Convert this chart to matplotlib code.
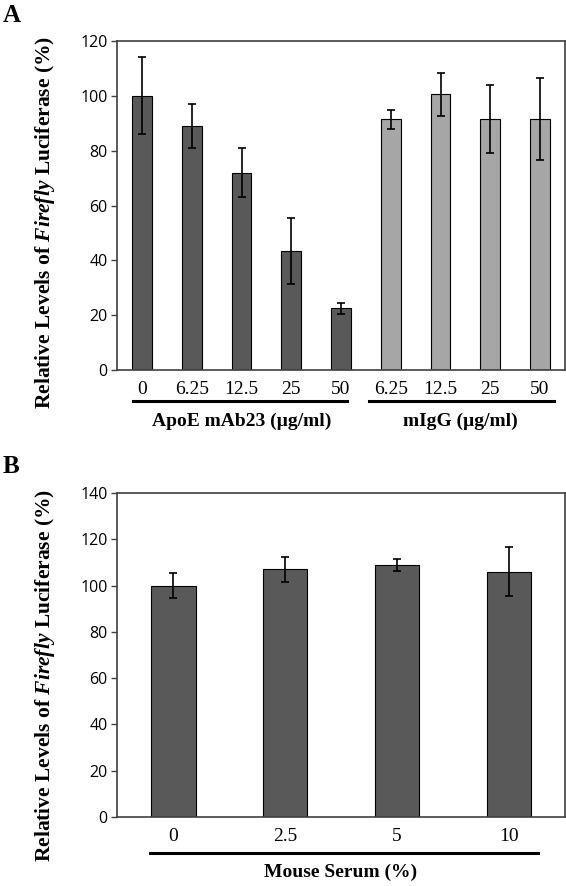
import matplotlib
matplotlib.use('Agg')
import matplotlib.pyplot as plt

plt.rcParams['mathtext.fontset'] = 'custom'
plt.rcParams['mathtext.rm'] = 'Liberation Serif:bold'
plt.rcParams['mathtext.it'] = 'Liberation Serif:italic:bold'

# Panel A data
a_labels = ['0', '6.25', '12.5', '25', '50', '6.25', '12.5', '25', '50']
a_values = [100, 89, 72, 43.5, 22.5, 91.5, 100.5, 91.5, 91.5]
a_errors = [14, 8, 9, 12, 2, 3.5, 8, 12.5, 15]
a_groups = ['ApoE mAb23', 'ApoE mAb23', 'ApoE mAb23', 'ApoE mAb23', 'ApoE mAb23',
            'mIgG', 'mIgG', 'mIgG', 'mIgG']

# Panel B data
b_labels = ['0', '2.5', '5', '10']
b_values = [100, 107, 109, 106]
b_errors = [5.5, 5.5, 2.5, 10.5]

dark = '#595959'
light = '#a6a6a6'
ylabel = r'Relative Levels of $\mathit{Firefly}$ Luciferase (%)'

fig = plt.figure(figsize=(5.66, 8.86), dpi=100)
axA = fig.add_axes([0.207, 0.5824, 0.791, 0.3713])
axB = fig.add_axes([0.207, 0.0779, 0.791, 0.3657])


def style_axes(ax, ymax, step, label_y):
    ax.set_ylim(0, ymax)
    ax.set_yticks(range(0, ymax + 1, step))
    for s in ax.spines.values():
        s.set_color('#404040')
        s.set_linewidth(1.2)
    ax.tick_params(axis='y', direction='out', length=4, width=1, color='#404040',
                   labelsize=11.5, pad=3)
    for t in ax.get_yticklabels():
        t.set_fontfamily('Open Sans')
    ax.tick_params(axis='x', length=0, labelsize=14, pad=8)
    for t in ax.get_xticklabels():
        t.set_fontfamily('Liberation Serif')
    ax.set_ylabel(ylabel, fontsize=15.5, fontweight='bold', family='Liberation Serif')
    ax.yaxis.set_label_coords(-0.135, label_y)


# Panel A
xa = list(range(len(a_values)))
colors = [dark if g == 'ApoE mAb23' else light for g in a_groups]
axA.bar(xa, a_values, width=0.4, color=colors, edgecolor='black', linewidth=0.8,
        yerr=a_errors, capsize=3, error_kw=dict(ecolor='black', elinewidth=1.2, capthick=1.2))
axA.set_xlim(-0.5, len(xa) - 0.5)
axA.set_xticks(xa)
axA.set_xticklabels(a_labels)
style_axes(axA, 120, 20, 0.447)

tr = axA.get_xaxis_transform()
axA.plot([-0.18, 4.13], [-0.094, -0.094], color='black', lw=2.2, transform=tr, clip_on=False)
axA.plot([4.56, 8.28], [-0.094, -0.094], color='black', lw=2.2, transform=tr, clip_on=False)
axA.text(2.0, -0.155, 'ApoE mAb23 (µg/ml)', transform=tr, ha='center', va='center',
         fontsize=14, fontweight='bold', family='Liberation Serif')
axA.text(6.4, -0.155, 'mIgG (µg/ml)', transform=tr, ha='center', va='center',
         fontsize=14, fontweight='bold', family='Liberation Serif')

# Panel B
xb = list(range(len(b_values)))
axB.bar(xb, b_values, width=0.4, color=dark, edgecolor='black', linewidth=0.8,
        yerr=b_errors, capsize=3, error_kw=dict(ecolor='black', elinewidth=1.2, capthick=1.2))
axB.set_xlim(-0.5, len(xb) - 0.5)
axB.set_xticks(xb)
axB.set_xticklabels(b_labels)
style_axes(axB, 140, 20, 0.438)

trb = axB.get_xaxis_transform()
axB.plot([-0.21, 3.26], [-0.111, -0.111], color='black', lw=2.2, transform=trb, clip_on=False)
axB.text(1.5, -0.172, 'Mouse Serum (%)', transform=trb, ha='center', va='center',
         fontsize=14, fontweight='bold', family='Liberation Serif')

fig.text(0.005, 0.982, 'A', fontsize=18, fontweight='bold', family='Liberation Serif',
         ha='left', va='center')
fig.text(0.005, 0.473, 'B', fontsize=18, fontweight='bold', family='Liberation Serif',
         ha='left', va='center')

fig.savefig('out.png', dpi=100)
